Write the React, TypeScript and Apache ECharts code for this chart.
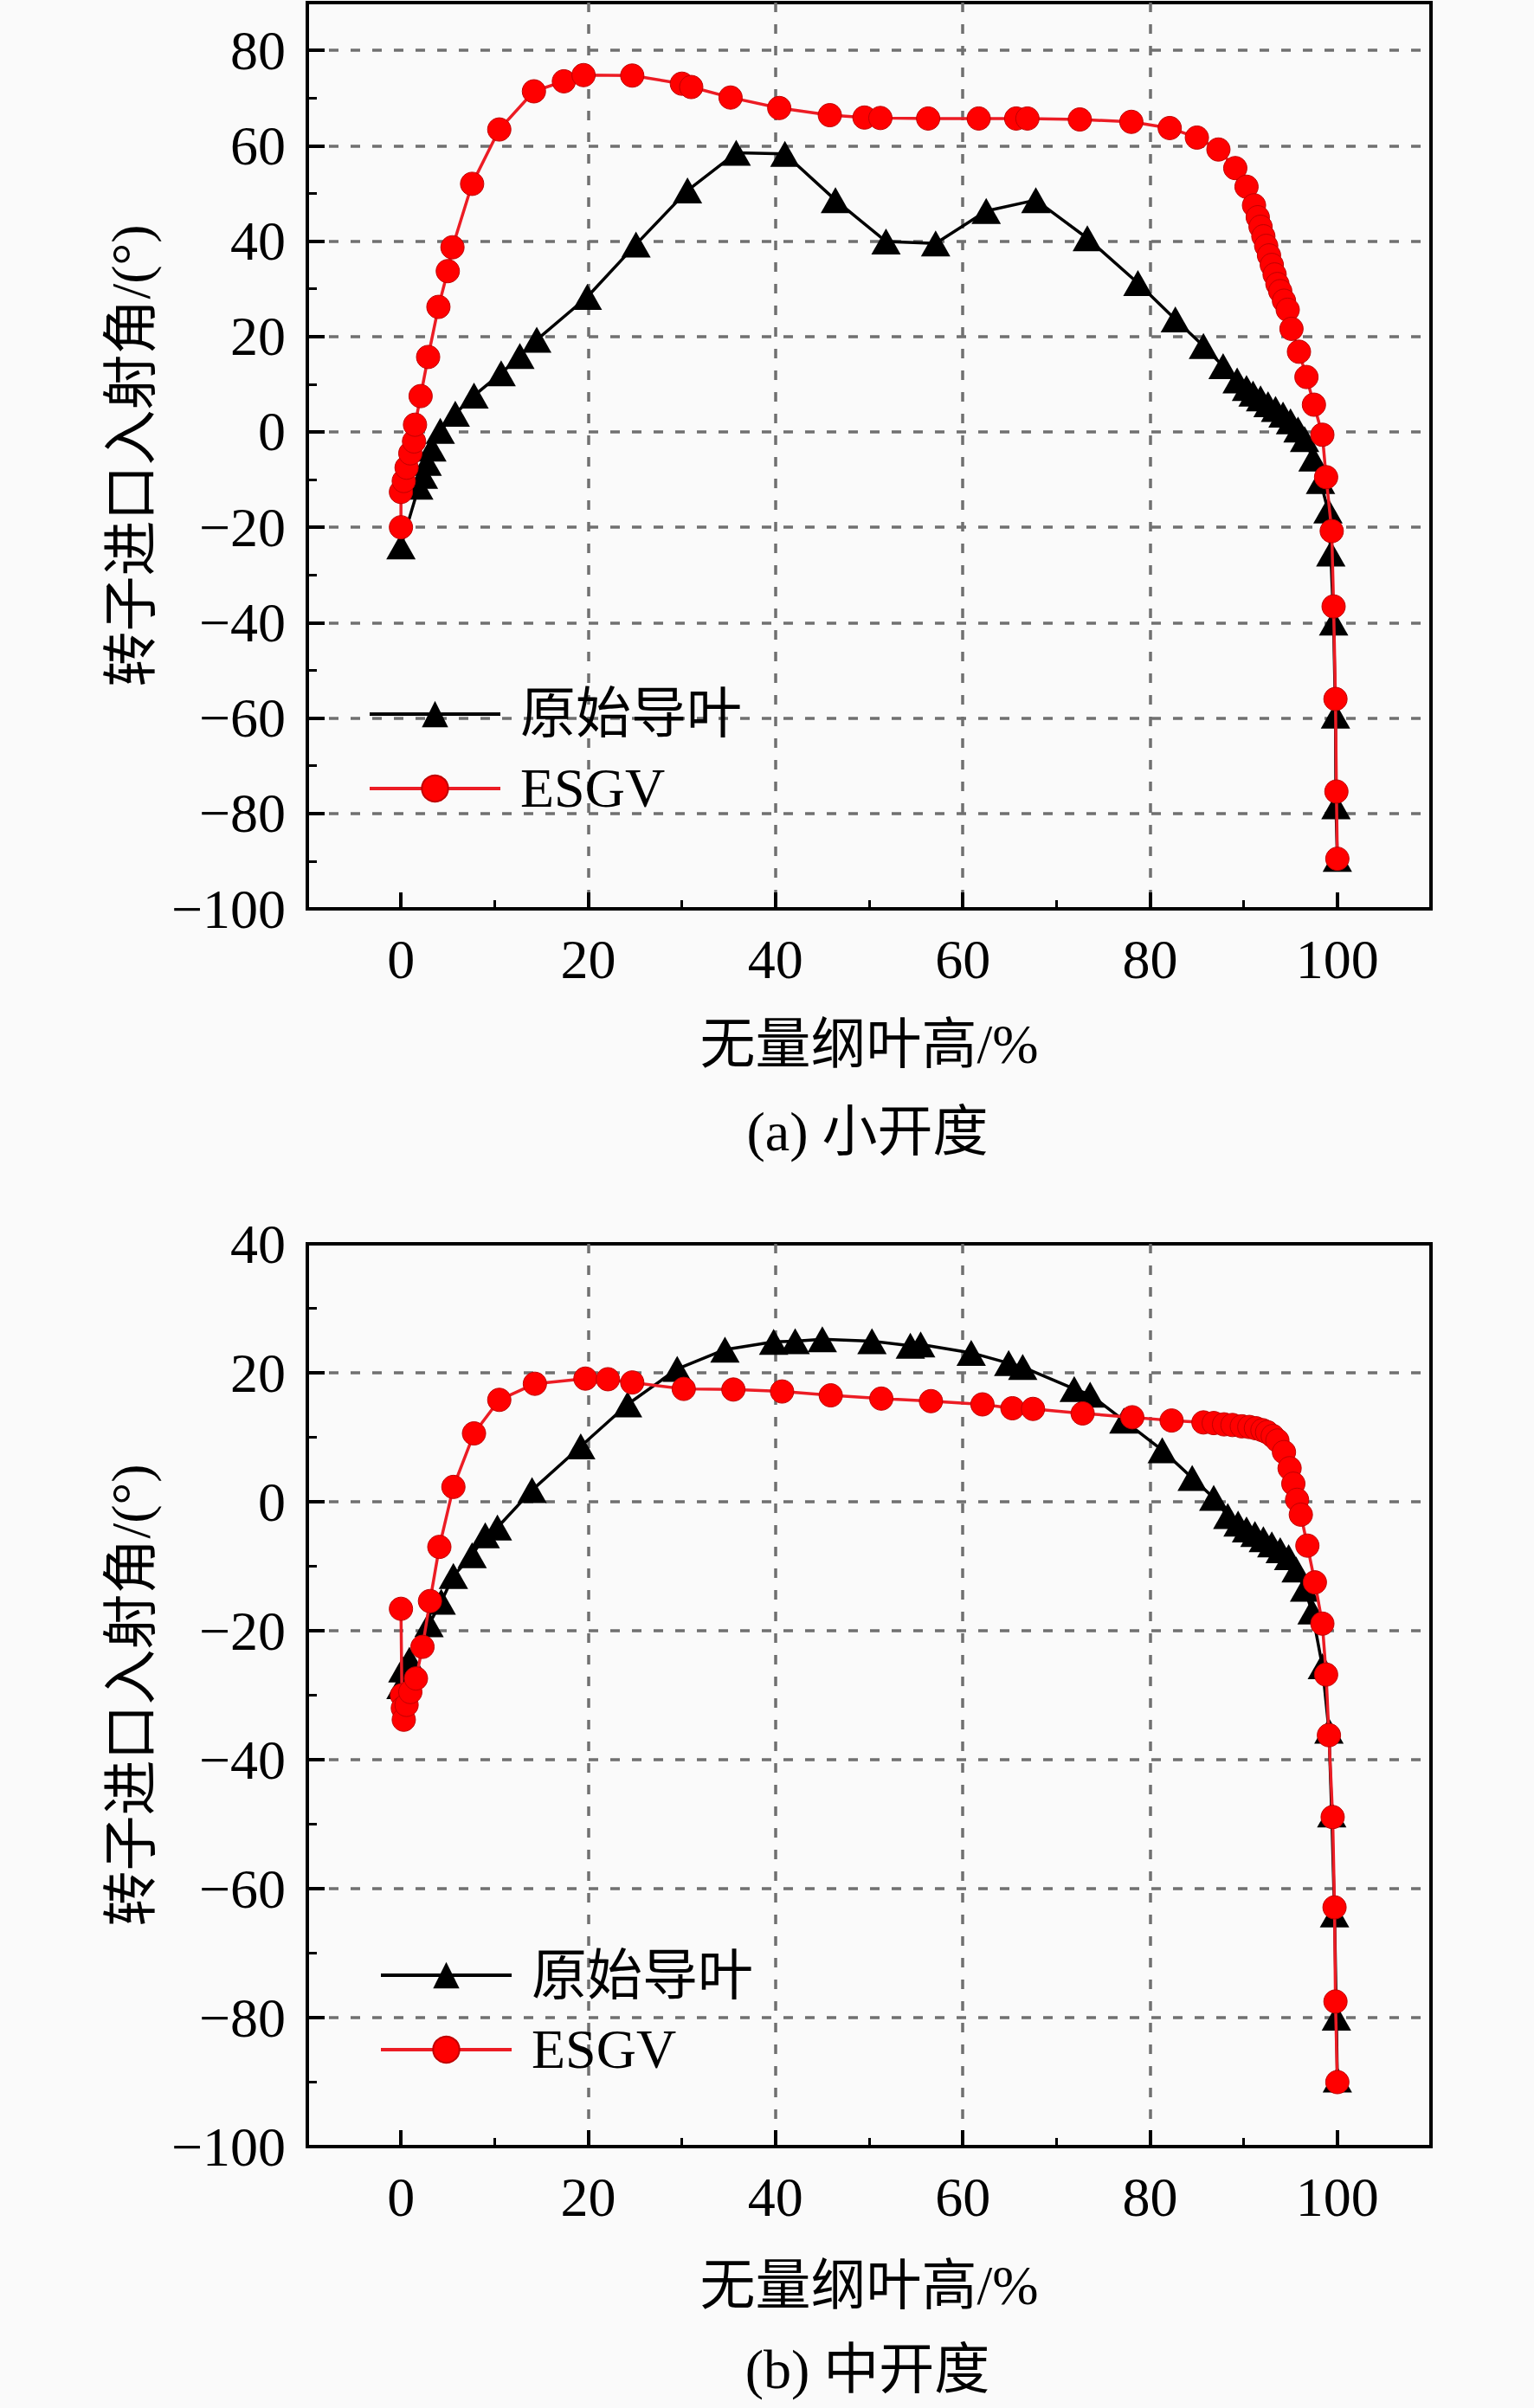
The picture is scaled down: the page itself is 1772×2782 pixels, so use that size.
import React, { useEffect, useRef } from "react";
import * as echarts from "echarts";

// ---------- data ----------
const seriesNames = ["原始导叶", "ESGV"];
const xAxisTitle = "无量纲叶高/%";
const yAxisTitle = "转子进口入射角/(°)";
const captions = ["(a) 小开度", "(b) 中开度"];
const xTickLabels = [0, 20, 40, 60, 80, 100];
const xMinorTicks = [10, 30, 50, 70, 90];
const yTickLabelsA = [-100, -80, -60, -40, -20, 0, 20, 40, 60, 80];
const yTickLabelsB = [-100, -80, -60, -40, -20, 0, 20, 40];

// (a) small opening — original guide vane
const aOrigX = [0, 1.9, 2.4, 2.8, 3.3, 4.2, 5.8, 7.8, 10.7, 12.7, 14.5, 19.9, 25.1, 30.6, 35.8, 41.0, 46.4, 51.8, 57.1, 62.5, 67.8, 73.3, 78.7, 82.7, 85.7, 87.8, 89.3, 90.3, 91.0, 91.8, 92.6, 93.4, 94.2, 95.0, 95.8, 96.5, 97.4, 98.2, 99.0, 99.3, 99.6, 99.8, 99.85, 100];
const aOrigY = [-24, -11.5, -9.2, -6.5, -3.5, 0.2, 3.8, 7.6, 12.3, 15.9, 19.3, 28.3, 39.3, 50.6, 58.5, 58.3, 48.6, 39.9, 39.5, 46.3, 48.6, 40.6, 31.2, 23.6, 18.0, 13.8, 10.8, 9.2, 8.0, 7.0, 5.8, 4.8, 3.6, 2.2, 0.5, -1.5, -5.6, -10.3, -16.5, -25.5, -40, -59.5, -78.5, -89.5];

// (a) small opening — ESGV
const aEsgvX = [0, 0, 0.3, 0.6, 1.0, 1.4, 1.5, 2.1, 2.9, 4.0, 5.0, 5.5, 7.6, 10.5, 14.2, 17.4, 19.5, 24.7, 30.0, 31.0, 35.2, 40.4, 45.8, 49.5, 51.2, 56.3, 61.7, 65.7, 66.9, 72.5, 78.0, 82.1, 85.0, 87.3, 89.1, 90.3, 91.1, 91.5, 91.8, 92.1, 92.4, 92.7, 93.0, 93.3, 93.6, 93.9, 94.3, 94.7, 95.1, 95.9, 96.7, 97.5, 98.4, 98.8, 99.4, 99.6, 99.8, 99.9, 100];
const aEsgvY = [-20, -12.6, -10.3, -7.5, -4.5, -2.0, 1.5, 7.5, 15.7, 26.2, 33.7, 38.7, 52.0, 63.4, 71.4, 73.5, 74.8, 74.7, 73.0, 72.3, 70.1, 67.9, 66.4, 65.9, 65.8, 65.7, 65.7, 65.7, 65.7, 65.5, 65.0, 63.7, 61.7, 59.2, 55.3, 51.4, 47.5, 45.0, 43.0, 41.0, 39.0, 37.0, 35.0, 33.0, 31.0, 29.5, 27.5, 25.6, 21.6, 16.8, 11.5, 5.7, -0.6, -9.5, -20.8, -36.6, -56, -75.4, -89.5];

// (b) medium opening — original guide vane
const bOrigX = [0, 0.2, 0.9, 3.0, 4.3, 5.6, 7.6, 9.0, 10.3, 14.0, 19.2, 24.2, 29.5, 34.6, 39.8, 42.1, 45.0, 50.3, 54.4, 55.5, 60.9, 64.9, 66.4, 71.9, 73.6, 77.2, 81.3, 84.5, 86.8, 88.3, 89.4, 90.3, 91.2, 92.1, 93.0, 93.9, 94.8, 95.6, 96.5, 97.3, 98.4, 99.1, 99.4, 99.7, 99.9, 100];
const bOrigY = [-28.6, -26.0, -24.5, -19.0, -15.5, -11.5, -8.3, -5.2, -4.0, 1.8, 8.6, 15.1, 20.6, 23.6, 24.8, 24.9, 25.2, 24.9, 24.2, 24.4, 23.1, 21.5, 20.9, 17.5, 16.6, 12.6, 8.0, 3.7, 0.6, -2.2, -3.4, -4.3, -5.0, -5.8, -6.6, -7.5, -8.6, -10.5, -13.5, -17.0, -25.5, -35.5, -48.5, -64, -80, -89.6];

// (b) medium opening — ESGV
const bEsgvX = [0, 0.1, 0.2, 0.3, 0.6, 1.0, 1.6, 2.3, 3.1, 4.1, 5.6, 7.8, 10.5, 14.3, 19.7, 22.1, 24.7, 30.2, 35.5, 40.7, 45.9, 51.3, 56.6, 62.1, 65.3, 67.5, 72.8, 78.1, 82.3, 85.7, 86.8, 87.9, 88.8, 89.8, 90.6, 91.3, 92.0, 92.5, 93.1, 93.6, 94.3, 94.9, 95.3, 95.7, 96.1, 96.8, 97.6, 98.4, 98.8, 99.1, 99.5, 99.7, 99.8, 100];
const bEsgvY = [-16.6, -30.0, -32.0, -33.8, -31.5, -29.5, -27.4, -22.5, -15.4, -7.0, 2.3, 10.6, 15.8, 18.3, 19.1, 19.0, 18.5, 17.5, 17.4, 17.1, 16.5, 16.0, 15.6, 15.1, 14.5, 14.4, 13.7, 13.1, 12.6, 12.3, 12.2, 12.0, 11.9, 11.7, 11.6, 11.4, 11.1, 10.8, 10.2, 9.5, 7.7, 5.2, 2.8, 0.3, -2.0, -6.8, -12.5, -18.9, -26.8, -36.2, -48.9, -62.9, -77.5, -90];

// ---------- styling ----------
const FONT = "'Liberation Serif', 'Times New Roman', 'Noto Sans CJK SC', serif";
const FS = 64;

const zip = (xs: number[], ys: number[]) => xs.map((x, i) => [x, ys[i]]);
const fmtNum = (v: number) => (v < 0 ? "\u2212" + Math.abs(v) : String(v));

const gridDash = { color: "#707070", width: 3.5, type: [11, 14] as number[] };

function makeXAxis(gridIndex: number, nameGap: number) {
  return {
    type: "value",
    gridIndex,
    position: "bottom",
    min: -10,
    max: 110,
    interval: 10,
    name: xAxisTitle,
    nameLocation: "middle",
    nameGap,
    nameTextStyle: { fontSize: FS, fontFamily: FONT, color: "#000" },
    axisLine: { show: true, onZero: false, lineStyle: { color: "#000", width: 4 } },
    axisTick: {
      show: true,
      inside: true,
      length: 19,
      customValues: xTickLabels,
      lineStyle: { color: "#000", width: 4 },
    },
    minorTick: { show: false },
    axisLabel: {
      show: true,
      margin: 26,
      fontSize: FS,
      fontFamily: FONT,
      color: "#000",
      customValues: xTickLabels,
      formatter: (v: number) => fmtNum(v),
    },
    splitLine: { show: true, showMinLine: false, showMaxLine: false, lineStyle: gridDash },
  };
}

function makeXMinorAxis(gridIndex: number) {
  return {
    type: "value",
    gridIndex,
    position: "bottom",
    min: -10,
    max: 110,
    interval: 10,
    axisLine: { show: false, onZero: false },
    axisTick: {
      show: true,
      inside: true,
      length: 10,
      customValues: xMinorTicks,
      lineStyle: { color: "#000", width: 3 },
    },
    axisLabel: { show: false },
    splitLine: { show: false },
    minorTick: { show: false },
  };
}

function makeYAxis(gridIndex: number, min: number, max: number, labels: number[]) {
  return {
    type: "value",
    gridIndex,
    min,
    max,
    interval: 20,
    name: yAxisTitle,
    nameLocation: "middle",
    nameGap: 172,
    nameRotate: 90,
    nameTextStyle: { fontSize: FS, fontFamily: FONT, color: "#000" },
    axisLine: { show: true, onZero: false, lineStyle: { color: "#000", width: 4 } },
    axisTick: { show: true, inside: true, length: 20, lineStyle: { color: "#000", width: 4 } },
    minorTick: { show: true, splitNumber: 2, length: 11, lineStyle: { color: "#000", width: 3 } },
    axisLabel: {
      show: true,
      margin: 25,
      fontSize: FS,
      fontFamily: FONT,
      color: "#000",
      formatter: (v: number) => (labels.includes(v) ? fmtNum(v) : ""),
    },
    splitLine: { show: true, showMinLine: false, showMaxLine: false, lineStyle: gridDash },
  };
}

function origSeries(idx: number, data: number[][]) {
  return {
    type: "line",
    name: seriesNames[0],
    xAxisIndex: idx,
    yAxisIndex: idx,
    data,
    symbol: "triangle",
    symbolSize: [34, 30],
    showAllSymbol: true,
    lineStyle: { color: "#000", width: 3.5 },
    itemStyle: { color: "#000" },
    z: 3,
  };
}

function esgvSeries(idx: number, data: number[][]) {
  return {
    type: "line",
    name: seriesNames[1],
    xAxisIndex: idx,
    yAxisIndex: idx,
    data,
    symbol: "circle",
    symbolSize: 27,
    showAllSymbol: true,
    lineStyle: { color: "#ec1c24", width: 3.5 },
    itemStyle: { color: "#ff0000", borderColor: "#c00000", borderWidth: 1 },
    z: 4,
  };
}

function legendAt(left: number, top: number) {
  return {
    data: seriesNames,
    orient: "vertical",
    left,
    top,
    itemWidth: 151,
    itemHeight: 38,
    itemGap: 22,
    selectedMode: false,
    lineStyle: { width: 4 },
    textStyle: { fontSize: FS, fontFamily: FONT, color: "#000", padding: [0, 0, 0, 18] },
  };
}

export default function App() {
  const ref = useRef<HTMLDivElement>(null);
  useEffect(() => {
    if (!ref.current) return;
    const chart = echarts.init(ref.current, undefined, { renderer: "svg" });
    const gridBase = {
      left: 355,
      width: 1298,
      show: true,
      backgroundColor: "transparent",
      borderColor: "#000",
      borderWidth: 4,
      containLabel: false,
      outerBoundsMode: "none",
    };
    chart.setOption({
      animation: false,
      backgroundColor: "#fafafa",
      grid: [
        { ...gridBase, top: 3, height: 1047 },
        { ...gridBase, top: 1437, height: 1043 },
      ],
      xAxis: [makeXAxis(0, 124), makeXAxis(1, 128), makeXMinorAxis(0), makeXMinorAxis(1)],
      yAxis: [
        makeYAxis(0, -100, 90, yTickLabelsA),
        makeYAxis(1, -100, 40, yTickLabelsB),
      ],
      legend: [legendAt(420, 788), legendAt(433, 2245)],
      series: [
        origSeries(0, zip(aOrigX, aOrigY)),
        esgvSeries(0, zip(aEsgvX, aEsgvY)),
        origSeries(1, zip(bOrigX, bOrigY)),
        esgvSeries(1, zip(bEsgvX, bEsgvY)),
      ],
      graphic: [
        {
          type: "text",
          x: 1002,
          y: 1307,
          style: { text: captions[0], fontSize: FS, fontFamily: FONT, fill: "#000", align: "center", verticalAlign: "middle" },
        },
        {
          type: "text",
          x: 1002,
          y: 2737,
          style: { text: captions[1], fontSize: FS, fontFamily: FONT, fill: "#000", align: "center", verticalAlign: "middle" },
        },
      ],
    });
    return () => chart.dispose();
  }, []);
  return (
    <div
      ref={ref}
      style={{ position: "absolute", left: 0, top: 0, width: 1772, height: 2782 }}
    />
  );
}
